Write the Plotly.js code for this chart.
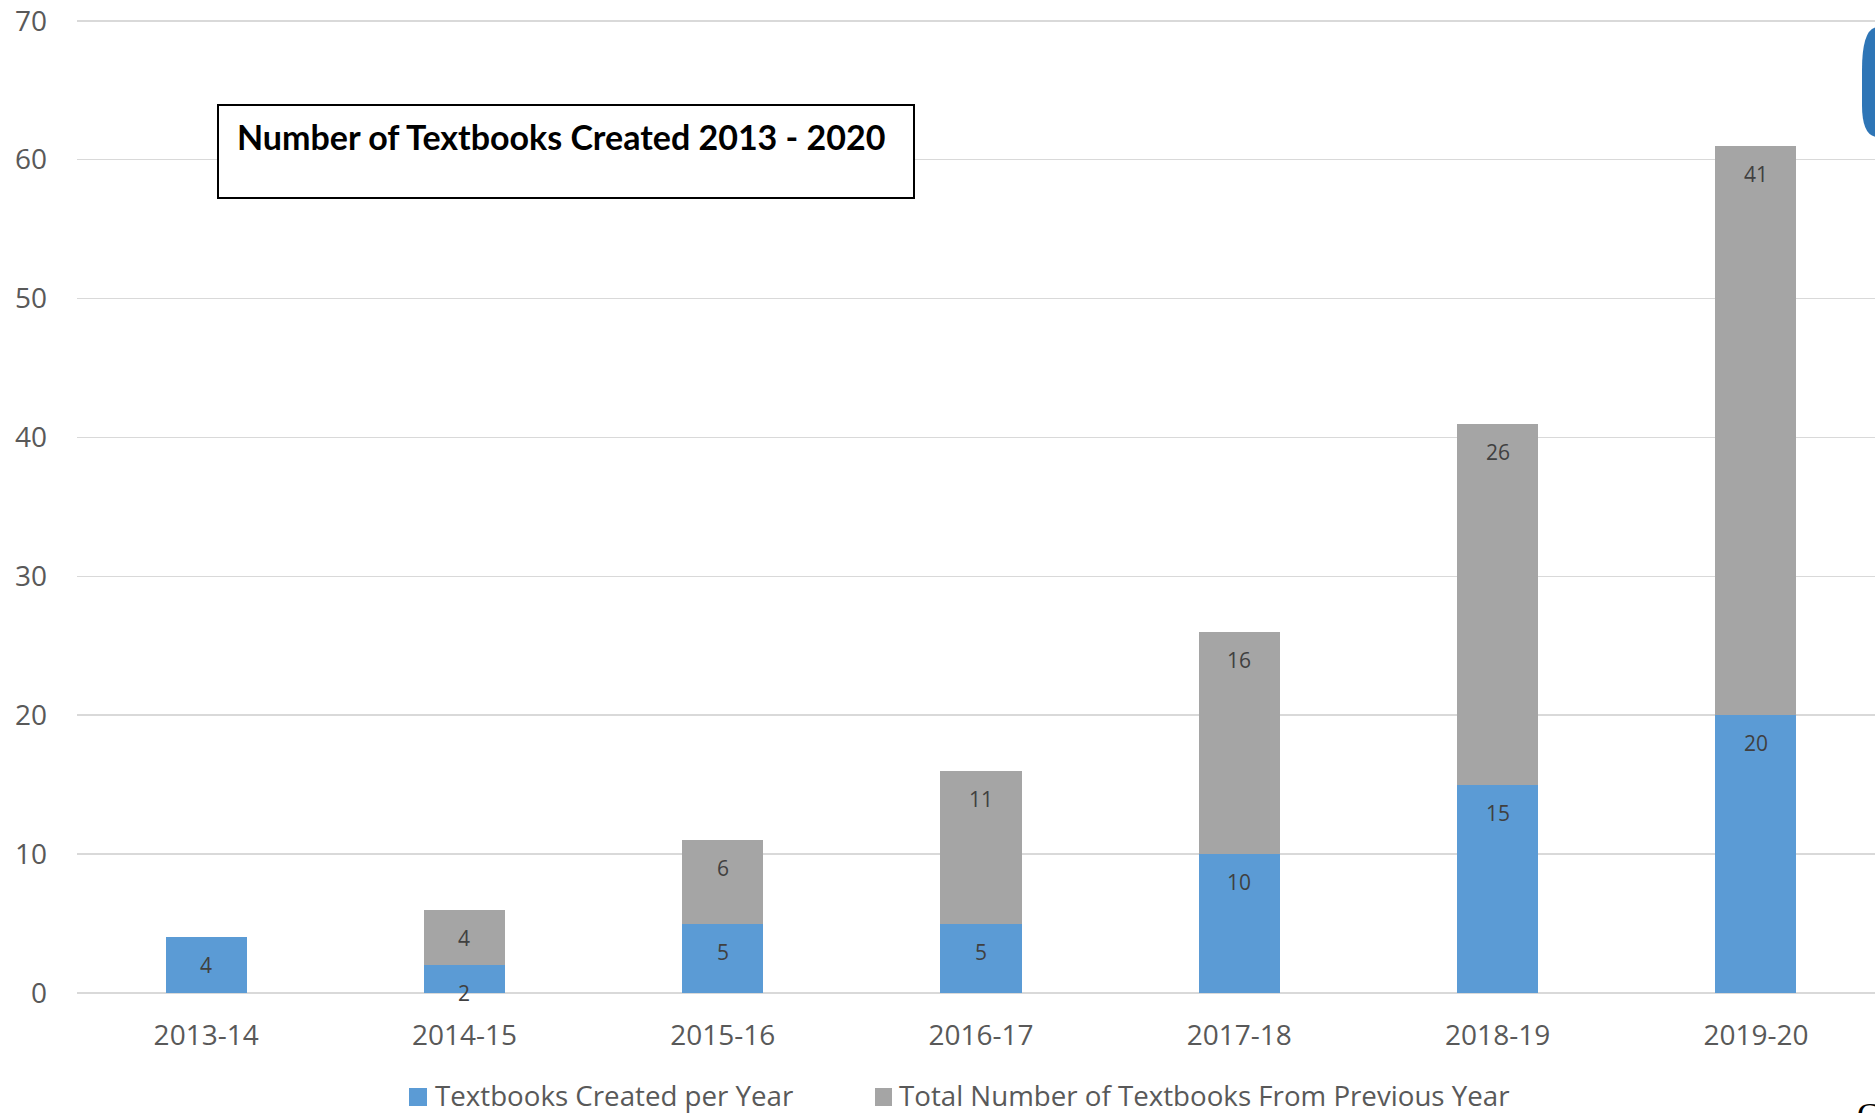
<!DOCTYPE html>
<html>
<head>
<meta charset="utf-8">
<script src="https://cdn.plot.ly/plotly-3.0.1.min.js"></script>
<style>
  html, body { margin: 0; padding: 0; background: #ffffff; }
  #chart { width: 1875px; height: 1113px; }
</style>
</head>
<body>
<div id="chart"></div>
<script>
// ---- data ----
const categories = ['2013-14', '2014-15', '2015-16', '2016-17', '2017-18', '2018-19', '2019-20'];
const createdPerYear = [4, 2, 5, 5, 10, 15, 20];
const fromPreviousYear = [null, 4, 6, 11, 16, 26, 41];
const seriesNames = ['Textbooks Created per Year', 'Total Number of Textbooks From Previous Year'];
const chartTitle = 'Number of Textbooks Created 2013 - 2020';
const yTicks = [0, 10, 20, 30, 40, 50, 60, 70];

// ---- style ----
const BLUE = '#5B9BD5';
const GRAY = '#A5A5A5';
const GRID = '#D9D9D9';
const TICK = '#595959';
const LABEL = '#404040';
const FONT = '"Open Sans", "DejaVu Sans", sans-serif';

// page geometry (pixels) -> paper coordinates
const W = 1875, H = 1113;
const M = { l: 77, r: 0, t: 18, b: 120 };
const PW = W - M.l - M.r, PH = H - M.t - M.b;
const px = x => (x - M.l) / PW;
const py = y => (H - M.b - y) / PH;

const traces = [
  {
    type: 'bar', name: seriesNames[0], x: categories, y: createdPerYear,
    marker: { color: BLUE }, width: 0.314, hoverinfo: 'x+y+name'
  },
  {
    type: 'bar', name: seriesNames[1], x: categories, y: fromPreviousYear,
    marker: { color: GRAY }, width: 0.314, hoverinfo: 'x+y+name'
  }
];

// data labels: inside end of each segment
const annotations = [];
categories.forEach((c, i) => {
  const a = createdPerYear[i];
  if (a != null) {
    annotations.push({
      x: c, y: a, xref: 'x', yref: 'y', text: String(a), showarrow: false,
      yanchor: 'middle', yshift: -28, font: { family: FONT, size: 21, color: LABEL }
    });
  }
  const b = fromPreviousYear[i];
  if (b != null) {
    annotations.push({
      x: c, y: (a || 0) + b, xref: 'x', yref: 'y', text: String(b), showarrow: false,
      yanchor: 'middle', yshift: -28, font: { family: FONT, size: 21, color: LABEL }
    });
  }
});

// title text inside a box
annotations.push({
  xref: 'paper', yref: 'paper', x: px(235), y: py(137), xanchor: 'left', yanchor: 'middle',
  text: '<b>' + chartTitle + '</b>', showarrow: false,
  font: { family: 'Lato, "Open Sans", sans-serif', size: 34, color: '#000000' }
});

// custom legend
annotations.push({
  xref: 'paper', yref: 'paper', x: px(433), y: py(1095), xanchor: 'left', yanchor: 'middle',
  text: seriesNames[0], showarrow: false, font: { family: FONT, size: 27.7, color: TICK }
});
annotations.push({
  xref: 'paper', yref: 'paper', x: px(897), y: py(1095), xanchor: 'left', yanchor: 'middle',
  text: seriesNames[1], showarrow: false, font: { family: FONT, size: 27.7, color: TICK }
});

// cropped letter at the bottom right
annotations.push({
  xref: 'paper', yref: 'paper', x: px(1855), y: py(1094), xanchor: 'left', yanchor: 'top',
  text: 'C', showarrow: false, font: { family: '"Liberation Serif", serif', size: 34, color: '#000000' }
});

const shapes = [
  // title box
  { type: 'rect', xref: 'paper', yref: 'paper', x0: px(218), x1: px(914), y0: py(198), y1: py(105),
    line: { color: '#000000', width: 2 }, fillcolor: 'rgba(255,255,255,1)', layer: 'above' },
  // legend swatches
  { type: 'rect', xref: 'paper', yref: 'paper', x0: px(409), x1: px(427), y0: py(1106), y1: py(1088),
    line: { width: 0 }, fillcolor: BLUE },
  { type: 'rect', xref: 'paper', yref: 'paper', x0: px(875), x1: px(892), y0: py(1106), y1: py(1088),
    line: { width: 0 }, fillcolor: GRAY },
  // cropped blue object at top right
  { type: 'path', xref: 'paper', yref: 'paper',
    path: 'M ' + px(1880) + ',' + py(27) + ' L ' + px(1878) + ',' + py(27) +
          ' Q ' + px(1862) + ',' + py(27) + ' ' + px(1862) + ',' + py(70) +
          ' L ' + px(1862) + ',' + py(105) +
          ' Q ' + px(1862) + ',' + py(137) + ' ' + px(1878) + ',' + py(137) +
          ' L ' + px(1880) + ',' + py(137) + ' Z',
    line: { width: 0 }, fillcolor: '#2E75B6' }
];

const layout = {
  width: W, height: H,
  margin: M,
  paper_bgcolor: '#ffffff', plot_bgcolor: '#ffffff',
  barmode: 'stack',
  showlegend: false,
  xaxis: {
    type: 'category', range: [-0.5, 6.461],
    showgrid: false, showline: false, zeroline: false, ticks: '',
    tickfont: { family: FONT, size: 28, color: TICK },
    ticklabelstandoff: 23, fixedrange: true
  },
  yaxis: {
    range: [0, 70.2], tickvals: yTicks, ticktext: yTicks.map(String),
    showgrid: true, gridcolor: GRID, gridwidth: 1.5,
    zeroline: true, zerolinecolor: GRID, zerolinewidth: 1.5,
    showline: false, ticks: '',
    tickfont: { family: FONT, size: 28, color: TICK },
    ticklabelstandoff: 29, fixedrange: true
  },
  annotations: annotations,
  shapes: shapes
};

Plotly.newPlot('chart', traces, layout, { displayModeBar: false, staticPlot: true });
</script>
</body>
</html>
